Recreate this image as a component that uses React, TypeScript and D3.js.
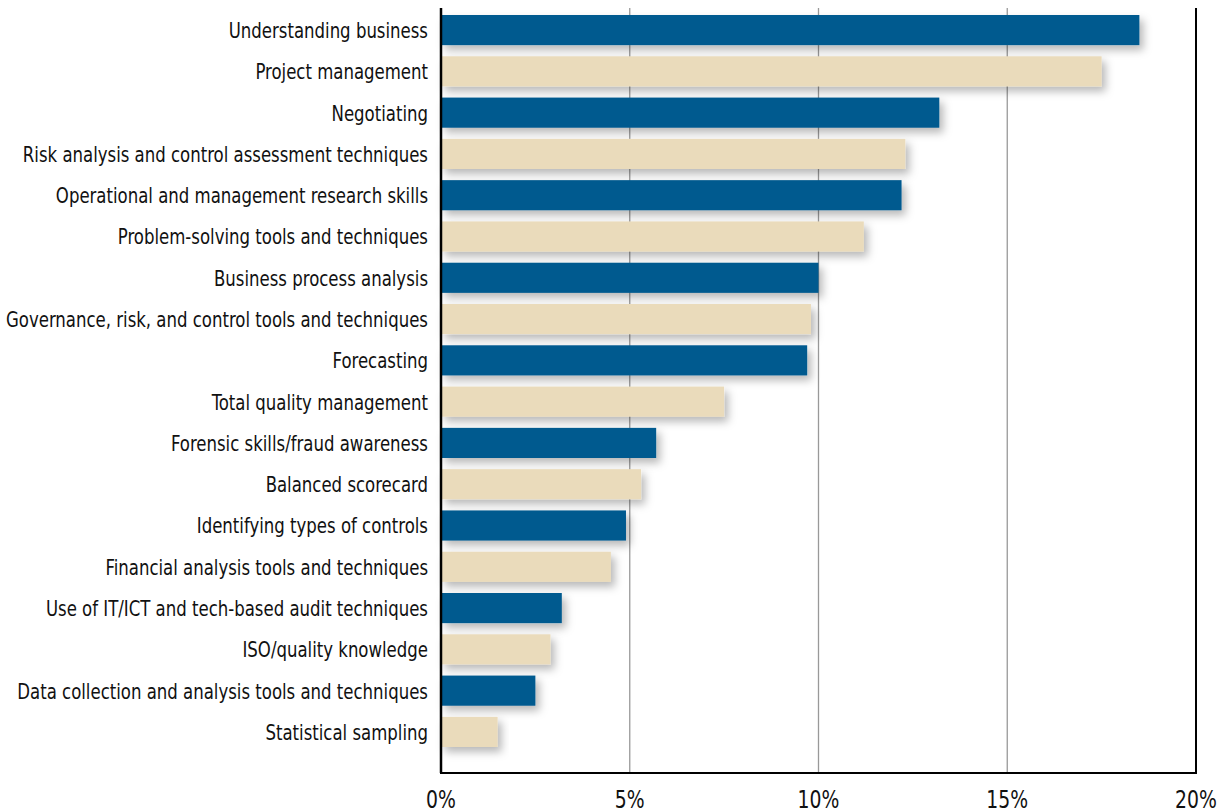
import React, { useLayoutEffect, useRef, useState } from "react";
import * as d3 from "d3";

const categories = [
  "Understanding business",
  "Project management",
  "Negotiating",
  "Risk analysis and control assessment techniques",
  "Operational and management research skills",
  "Problem-solving tools and techniques",
  "Business process analysis",
  "Governance, risk, and control tools and techniques",
  "Forecasting",
  "Total quality management",
  "Forensic skills/fraud awareness",
  "Balanced scorecard",
  "Identifying types of controls",
  "Financial analysis tools and techniques",
  "Use of IT/ICT and tech-based audit techniques",
  "ISO/quality knowledge",
  "Data collection and analysis tools and techniques",
  "Statistical sampling",
];
const values = [18.5, 17.5, 13.2, 12.3, 12.2, 11.2, 10.0, 9.8, 9.7, 7.5, 5.7, 5.3, 4.9, 4.5, 3.2, 2.9, 2.5, 1.5];
const xTicks = [0, 5, 10, 15, 20];
const colors = ["#005a8f", "#eadbbb"];

const W = 1228;
const H = 812;
const FONT = "'DejaVu Sans Condensed', 'DejaVu Sans', sans-serif";
const TARGET_WIDEST = 422;

export default function App() {
  const x = d3.scaleLinear().domain([0, 20]).range([441, 1196]);
  const y = d3.scaleBand<string>().domain(categories).range([15, 747]).paddingInner(0.27).paddingOuter(0);
  const yTop = 8;
  const yBottom = 773;
  const labelRef = useRef<SVGGElement>(null);
  const [sx, setSx] = useState(0.8);

  useLayoutEffect(() => {
    const g = labelRef.current;
    if (!g) return;
    let maxW = 0;
    g.querySelectorAll("text").forEach((t) => {
      maxW = Math.max(maxW, (t as SVGTextElement).getComputedTextLength());
    });
    if (maxW > 0) setSx(TARGET_WIDEST / maxW);
  }, []);

  return (
    <svg width={W} height={H} style={{ position: "absolute", left: 0, top: 0, background: "#fff" }}>
      <defs>
        <filter id="sh" x="-10%" y="-50%" width="130%" height="220%">
          <feDropShadow dx="4" dy="5" stdDeviation="4" floodColor="#000" floodOpacity="0.28" />
        </filter>
      </defs>
      {xTicks.slice(1, -1).map((t) => (
        <line key={t} x1={x(t)} x2={x(t)} y1={yTop} y2={yBottom} stroke="#999" strokeWidth={1.3} />
      ))}
      {categories.map((c, i) => (
        <rect
          key={c}
          x={x(0)}
          y={y(c)}
          width={x(values[i]) - x(0)}
          height={y.bandwidth()}
          fill={colors[i % 2]}
          filter="url(#sh)"
        />
      ))}
      <line x1={x(0)} x2={x(0)} y1={yTop} y2={yBottom} stroke="#000" strokeWidth={2.5} />
      <line x1={x(0) - 1} x2={x(20) + 1} y1={yBottom} y2={yBottom} stroke="#000" strokeWidth={2} />
      <line x1={x(20)} x2={x(20)} y1={yTop} y2={yBottom} stroke="#000" strokeWidth={2} />
      <g ref={labelRef}>
        {categories.map((c) => (
          <text
            key={c}
            transform={`translate(428,${(y(c) as number) + y.bandwidth() / 2}) scale(${sx},1)`}
            dy="0.36em"
            textAnchor="end"
            fontFamily={FONT}
            fontSize={22}
            fill="#111"
          >
            {c}
          </text>
        ))}
      </g>
      {xTicks.map((t) => (
        <text
          key={t}
          transform={`translate(${x(t)},808) scale(${sx},1)`}
          textAnchor="middle"
          fontFamily={FONT}
          fontSize={25}
          fill="#111"
        >
          {t}%
        </text>
      ))}
    </svg>
  );
}
